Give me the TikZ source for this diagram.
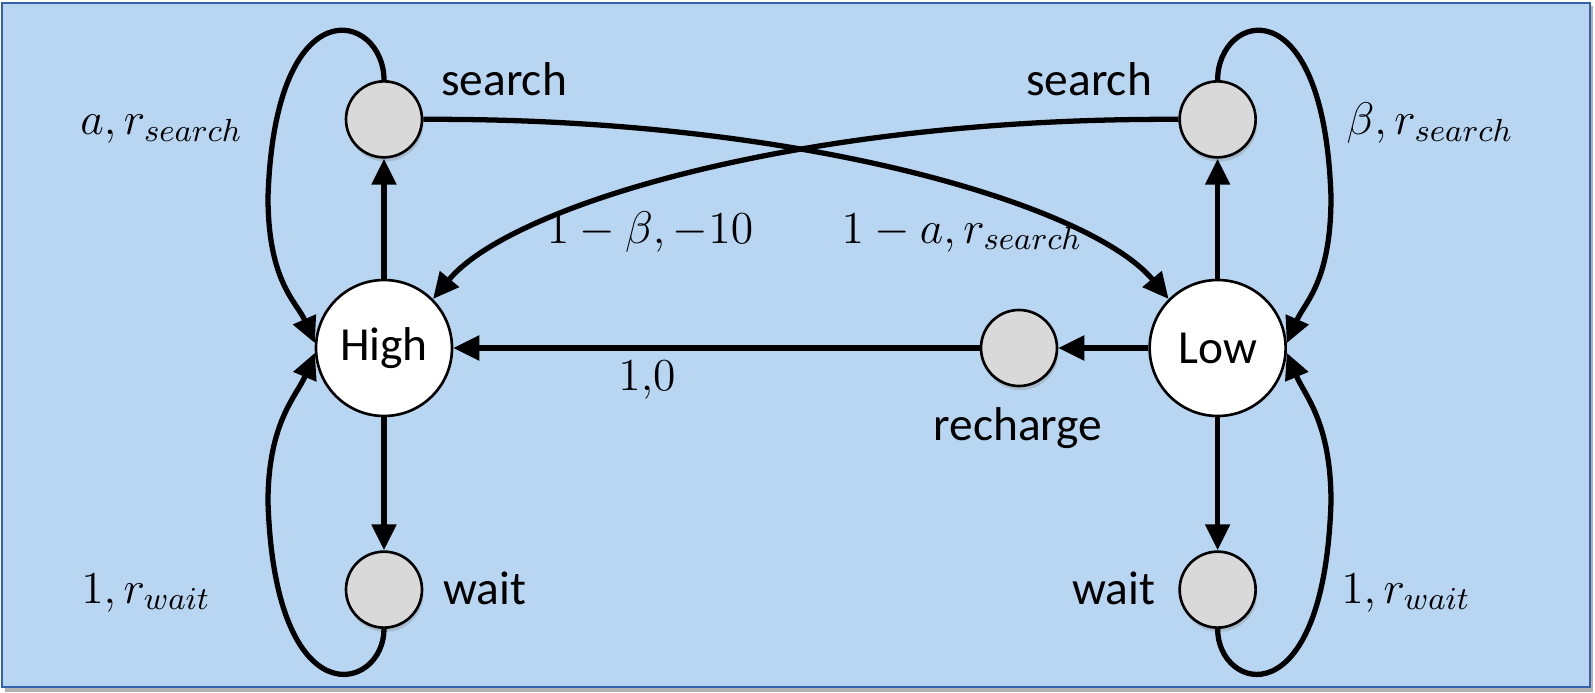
\documentclass[tikz,border=0pt]{standalone}
\usepackage{fix-cm}
\usepackage[no-math]{fontspec}
\setmainfont{Carlito}
\usetikzlibrary{positioning, arrows.meta, shadows}
\definecolor{panelblue}{RGB}{184,214,241}
\definecolor{panelline}{RGB}{52,98,170}
\definecolor{actgray}{RGB}{217,217,217}

\begin{document}
\begin{tikzpicture}[
        state/.style={draw, circle, fill=white, line width=0.75pt, minimum size=1.36cm, inner sep=0pt, font=\fontsize{13.5}{16}\selectfont},
        act/.style={draw, circle, fill=actgray, line width=0.75pt, minimum size=0.76cm, inner sep=0pt, drop shadow={shadow xshift=0.4pt, shadow yshift=-1.2pt, opacity=0.3}},
        lbl/.style={anchor=base, inner sep=0pt, font=\fontsize{13.5}{16}\selectfont},
        prob/.style={anchor=base, inner sep=0pt, font=\fontsize{13}{15}\selectfont},
        arrow/.style={-{Triangle[length=0.26cm, width=0.24cm]}, line width=1.5pt}
    ]
    
    % frame
    \useasboundingbox (0,0) rectangle (15.95,6.92);
    \fill[black!30] (0.05,0) rectangle (15.93,6.86);
    \draw[fill=panelblue, draw=panelline, line width=0.85pt] (0.02,0.05) rectangle (15.90,6.89);
    
    \node[state] (High) at (3.84,3.44) {High};
    \node[state, right=6.95cm of High] (Low) {Low};
    \node[act, above=1.2cm of High] (srchH) {};
    \node[act, below=1.33cm of High] (waitH) {};
    \node[act, above=1.2cm of Low] (srchL) {};
    \node[act, below=1.33cm of Low] (waitL) {};
    \node[act, left=0.9cm of Low] (rech) {};
    
    \node[lbl] (tSrchH) at (5.04,5.97) {search};
    \node[lbl] (tSrchL) at (10.89,5.97) {search};
    \node[lbl] (tWaitH) at (4.85,0.88) {wait};
    \node[lbl] (tWaitL) at (11.14,0.88) {wait};
    \node[lbl] (tRech) at (10.18,2.52) {recharge};
    
    \node[prob] (pSrchH) at (1.615,5.57) {$a, r_{search}$};
    \node[prob] (pSrchL) at (14.30,5.57) {$\beta, r_{search}$};
    \node[prob] (pWaitH) at (1.46,0.89) {$1, r_{wait}$};
    \node[prob] (pWaitL) at (14.06,0.89) {$1, r_{wait}$};
    \node[prob] (pFail) at (6.50,4.49) {$1-\beta, -10$};
    \node[prob] (pDrop) at (9.62,4.49) {$1-a, r_{search}$};
    \node[prob] (pRech) at (6.47,3.02) {$1{,}0$};
    
    \draw[arrow] (High) -- (srchH);
    \draw[arrow] (High) -- (waitH);
    \draw[arrow] (Low) -- (srchL);
    \draw[arrow] (Low) -- (waitL);
    \draw[arrow] (Low) -- (rech);
    \draw[arrow] (rech) -- (High);
    \draw[arrow] (srchH.east) .. controls +(3.8,0.02) and +(-0.77,0.93) .. (Low.135);
    \draw[arrow] (srchL.west) .. controls +(-3.8,0.02) and +(0.77,0.93) .. (High.45);
    
    % self-loops
    \draw[arrow] (srchH.north) .. controls +(0,0.67) and +(0.07,2.15) .. (2.68,4.95) .. controls +(0,-0.85) and +(-0.18,0.41) .. (High.176);
    \draw[arrow] (waitH.south) .. controls +(0,-0.62) and +(0.07,-2.2) .. (2.68,1.9) .. controls +(0,0.8) and +(-0.18,-0.43) .. (High.184);
    \draw[arrow] (srchL.north) .. controls +(0,0.67) and +(-0.07,2.15) .. (13.31,4.95) .. controls +(0,-0.85) and +(0.18,0.41) .. (Low.4);
    \draw[arrow] (waitL.south) .. controls +(0,-0.62) and +(-0.07,-2.2) .. (13.31,1.9) .. controls +(0,0.8) and +(0.18,-0.43) .. (Low.356);
    
\end{tikzpicture}
\end{document}
